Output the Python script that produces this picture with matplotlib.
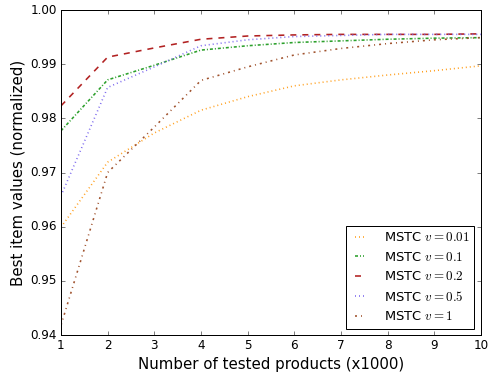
import matplotlib
matplotlib.use("Agg")
import matplotlib.pyplot as plt

plt.style.use("classic")

# number of tested products (x1000)
n_products = [1, 2, 3, 4, 5, 6, 7, 8, 9, 10]

# best item values (normalized) per MSTC setting
v_001 = [0.9599, 0.9719, 0.9773, 0.9815, 0.9840, 0.9860, 0.9871, 0.9880, 0.9888, 0.9897]
v_01 = [0.9777, 0.9871, 0.9898, 0.9926, 0.9934, 0.9940, 0.9943, 0.9946, 0.9948, 0.9949]
v_02 = [0.9823, 0.9913, 0.9930, 0.9946, 0.9952, 0.9954, 0.9955, 0.9955, 0.9955, 0.9956]
v_05 = [0.9657, 0.9857, 0.9895, 0.9934, 0.9945, 0.9951, 0.9953, 0.9955, 0.9955, 0.9955]
v_1 = [0.9418, 0.9700, 0.9784, 0.9870, 0.9895, 0.9917, 0.9929, 0.9938, 0.9945, 0.9949]

series = [
    (v_001, r"MSTC $v=0.01$", "#ff9f1c", ":"),
    (v_01, r"MSTC $v=0.1$", "#2ca02c", (0, (3, 2, 1, 2))),
    (v_02, r"MSTC $v=0.2$", "#b22222", "--"),
    (v_05, r"MSTC $v=0.5$", "#7b68ee", ":"),
    (v_1, r"MSTC $v=1$", "#a0522d", (0, (2, 4, 1, 4))),
]

fig = plt.figure(figsize=(489 / 72, 376 / 72), dpi=72, facecolor="white")
ax = fig.add_axes([0.1247, 0.109, 0.8589, 0.8644])

for vals, label, color, ls in series:
    ax.plot(n_products, vals, color=color, linestyle=ls, linewidth=1.6, label=label)

ax.set_xlim(1, 10)
ax.set_ylim(0.94, 1.00)
ax.set_xticks(n_products)
ax.set_yticks([0.94, 0.95, 0.96, 0.97, 0.98, 0.99, 1.00])
ax.tick_params(labelsize=12)
ax.set_xlabel("Number of tested products (x1000)", fontsize=15)
ax.set_ylabel("Best item values (normalized)", fontsize=15)

ax.legend(loc="lower right", fontsize=13, handlelength=1.3,
          handletextpad=1.2, borderaxespad=0.5)

fig.savefig("out.png", dpi=72, facecolor="white")
